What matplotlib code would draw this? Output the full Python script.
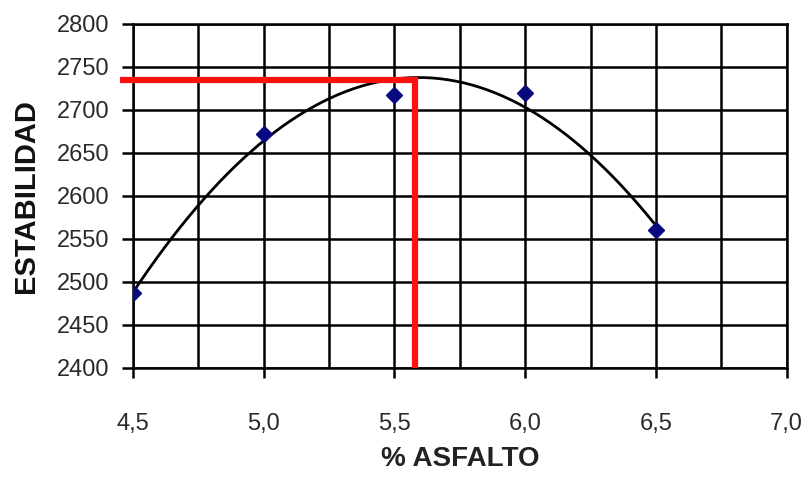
import matplotlib.pyplot as plt
import numpy as np
from matplotlib.ticker import MultipleLocator, FuncFormatter

plt.rcParams["font.family"] = ["Liberation Sans", "DejaVu Sans"]

# Marshall test: stability vs asphalt content
ASFALTO = [4.5, 5.0, 5.5, 6.0, 6.5]
ESTABILIDAD = [2487, 2672, 2717, 2720, 2560]

# optimum
OPT_ASFALTO = 5.58
OPT_ESTAB = 2735

coef = np.polyfit(ASFALTO, ESTABILIDAD, 2)
xs = np.linspace(min(ASFALTO), max(ASFALTO), 200)
ys = np.polyval(coef, xs)

fig = plt.figure(figsize=(8.11, 4.86), dpi=100)
ax = fig.add_axes([0.164, 0.243, 0.806, 0.708])

ax.set_xlim(4.5, 7.0)
ax.set_ylim(2400, 2800)
ax.xaxis.set_major_locator(MultipleLocator(0.5))
ax.xaxis.set_minor_locator(MultipleLocator(0.25))
ax.yaxis.set_major_locator(MultipleLocator(50))
ax.xaxis.set_major_formatter(FuncFormatter(lambda v, p: f"{v:.1f}".replace(".", ",")))

ax.grid(which="both", color="black", linewidth=1.8)
ax.set_axisbelow(True)
for s in ax.spines.values():
    s.set_color("black")
    s.set_linewidth(1.8)

ax.tick_params(axis="x", which="major", direction="out", length=7.5, width=1.8,
               pad=25, labelsize=17, colors="black", labelcolor="#2a2a2a")
ax.tick_params(axis="x", which="minor", length=0)
ax.tick_params(axis="y", direction="out", length=8, width=1.8, pad=9,
               labelsize=17, colors="black", labelcolor="#2a2a2a")

ax.plot(xs, ys, color="black", linewidth=2.0, zorder=3)
ax.plot(ASFALTO, ESTABILIDAD, linestyle="none", marker="D", markersize=8,
        color="#0a0a80", zorder=4)

# optimum guide lines
ax.plot([4.45, OPT_ASFALTO], [OPT_ESTAB, OPT_ESTAB], color="#ff1010",
        linewidth=4.5, solid_capstyle="butt", clip_on=False, zorder=5)
ax.plot([OPT_ASFALTO, OPT_ASFALTO], [OPT_ESTAB, 2400], color="#ff1010",
        linewidth=4.5, solid_capstyle="projecting", zorder=5)

ax.set_xlabel("% ASFALTO", fontsize=20, fontweight="bold", color="#222222",
              labelpad=8)
ax.set_ylabel("ESTABILIDAD", fontsize=21, fontweight="bold", color="#111111",
              labelpad=12)

fig.savefig("out.png", dpi=100)
